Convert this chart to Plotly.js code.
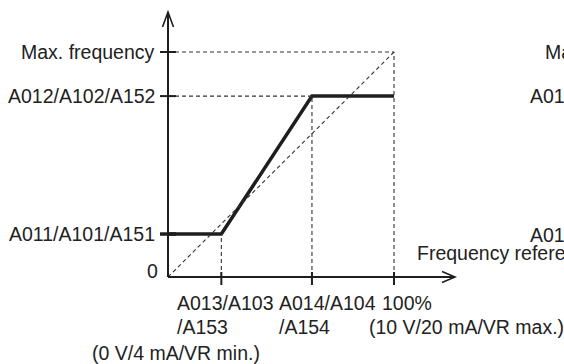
<!DOCTYPE html>
<html>
<head>
<meta charset="utf-8">
<script src="https://cdn.plot.ly/plotly-3.0.1.min.js"></script>
<style>html,body{margin:0;padding:0;background:#fff;}#chart{width:564px;height:364px;}</style>
</head>
<body>
<div id="chart"></div>
<script>
// ---- data (percent of analog input / percent of max frequency) ----
const xTickVals = [0, 23.6, 63.7, 100];
const xTickLine1 = ["", "A013/A103", "A014/A104", "100%"];
const xTickLine2 = ["", "/A153", "/A154", "(10 V/20 mA/VR max.)"];
const xTickLine3 = ["", "(0 V/4 mA/VR min.)", "", ""];
const yTickVals = [0, 19.1, 80.4, 100];
const yTickLabels = ["0", "A011/A101/A151", "A012/A102/A152", "Max. frequency"];
const outputX = [0, 23.6, 63.7, 100];
const outputY = [19.1, 19.1, 80.4, 80.4];
const diagonalX = [0, 100];
const diagonalY = [0, 100];
const rightPanelLabels = ["Max. frequency", "A012/A102/A152", "A011/A101/A151", "Frequency reference"];

// ---- scales (pixels per data unit) ----
const sx = 2.26, sy = 2.25, ox = 168, oy = 277, W = 564, H = 364;
const px = p => p / sx, py = p => p / sy;
const xArrowEnd = (455 - ox) / sx;
const yArrowEnd = (oy - 12) / sy;

const FONT = {family: "Liberation Sans, Arial, sans-serif", size: 19.5, color: "#222"};
const INK = "#1e1e1e";

const traces = [
  {x: outputX, y: outputY, mode: "lines", line: {color: INK, width: 3.5}, hoverinfo: "skip", cliponaxis: false}
];

const shapes = [];
const dash = {color: "#333", width: 1.1, dash: "4px,3px"};
const ymax = yTickVals[3], xmax = xTickVals[3];
// dashed guides
shapes.push({type: "line", xref: "x", yref: "y", x0: 0, x1: xmax, y0: ymax, y1: ymax, line: dash});
shapes.push({type: "line", xref: "x", yref: "y", x0: xmax, x1: xmax, y0: 0, y1: ymax, line: dash});
shapes.push({type: "line", xref: "x", yref: "y", x0: 0, x1: outputX[2], y0: outputY[2], y1: outputY[2], line: dash});
shapes.push({type: "line", xref: "x", yref: "y", x0: outputX[2], x1: outputX[2], y0: 0, y1: outputY[2], line: dash});
shapes.push({type: "line", xref: "x", yref: "y", x0: outputX[1], x1: outputX[1], y0: 0, y1: outputY[1], line: dash});
shapes.push({type: "line", xref: "x", yref: "y", x0: diagonalX[0], x1: diagonalX[1], y0: diagonalY[0], y1: diagonalY[1], line: dash});
// axes
const axisLine = {color: INK, width: 2};
shapes.push({type: "line", xref: "x", yref: "y", x0: 0, x1: 0, y0: 0, y1: yArrowEnd, line: axisLine});
shapes.push({type: "line", xref: "x", yref: "y", x0: 0, x1: xArrowEnd, y0: 0, y1: 0, line: axisLine});
// arrow heads (open chevrons)
shapes.push({type: "path", xref: "x", yref: "y",
  path: `M ${-px(5.5)} ${yArrowEnd - py(15)} L 0 ${yArrowEnd} L ${px(5.5)} ${yArrowEnd - py(15)}`,
  line: {color: INK, width: 1.6}});
shapes.push({type: "path", xref: "x", yref: "y",
  path: `M ${xArrowEnd - px(13)} ${py(5.5)} L ${xArrowEnd} 0 L ${xArrowEnd - px(13)} ${-py(5.5)}`,
  line: {color: INK, width: 1.6}});
// ticks
yTickVals.forEach((v, i) => {
  if (i === 0) return;
  shapes.push({type: "line", xref: "x", yref: "y", x0: -px(8), x1: px(8), y0: v, y1: v,
    line: {color: INK, width: i === 1 ? 3.5 : 2}});
});
xTickVals.forEach((v, i) => {
  if (i === 0) return;
  shapes.push({type: "line", xref: "x", yref: "y", x0: v, x1: v, y0: py(5), y1: -py(8),
    line: {color: INK, width: 2}});
});

const annotations = [];
yTickLabels.forEach((t, i) => {
  annotations.push({xref: "x", yref: "y", x: 0, y: yTickVals[i], text: t, showarrow: false,
    xanchor: "right", yanchor: "middle", xshift: i === 0 ? -8 : -11, yshift: i === 0 ? 6 : 0, font: FONT});
});
const line1Left = [0, 175, 277, 380];
const line2Left = [0, 175, 277, 367];
xTickVals.forEach((v, i) => {
  if (i === 0) return;
  annotations.push({xref: "x", yref: "y", x: v, y: 0, text: xTickLine1[i], showarrow: false,
    xanchor: "left", yanchor: "middle", xshift: line1Left[i] - (ox + v * sx), yshift: -(303 - oy), font: FONT});
  annotations.push({xref: "x", yref: "y", x: v, y: 0, text: xTickLine2[i], showarrow: false,
    xanchor: "left", yanchor: "middle", xshift: line2Left[i] - (ox + v * sx), yshift: -(327 - oy), font: FONT});
  if (xTickLine3[i]) annotations.push({xref: "x", yref: "y", x: v, y: 0, text: xTickLine3[i], showarrow: false,
    xanchor: "left", yanchor: "middle", xshift: 90 - (ox + v * sx), yshift: -(353 - oy), font: FONT});
});
// labels of the neighbouring panel, cut by the page edge
const rightLeft = [543, 528, 528, 415];
const rightY = [52, 96, 235, 253];
rightPanelLabels.forEach((t, i) => {
  annotations.push({xref: "paper", yref: "paper", x: rightLeft[i] / W, y: 1 - rightY[i] / H, text: t,
    showarrow: false, xanchor: "left", yanchor: "middle", font: FONT});
});

const layout = {
  width: W, height: H, margin: {l: 0, r: 0, t: 0, b: 0},
  paper_bgcolor: "#fff", plot_bgcolor: "#fff", showlegend: false,
  xaxis: {range: [-ox / sx, (W - ox) / sx], visible: false, fixedrange: true},
  yaxis: {range: [(oy - H) / sy, oy / sy], visible: false, fixedrange: true},
  shapes: shapes, annotations: annotations
};
Plotly.newPlot("chart", traces, layout, {staticPlot: true});
</script>
</body>
</html>
